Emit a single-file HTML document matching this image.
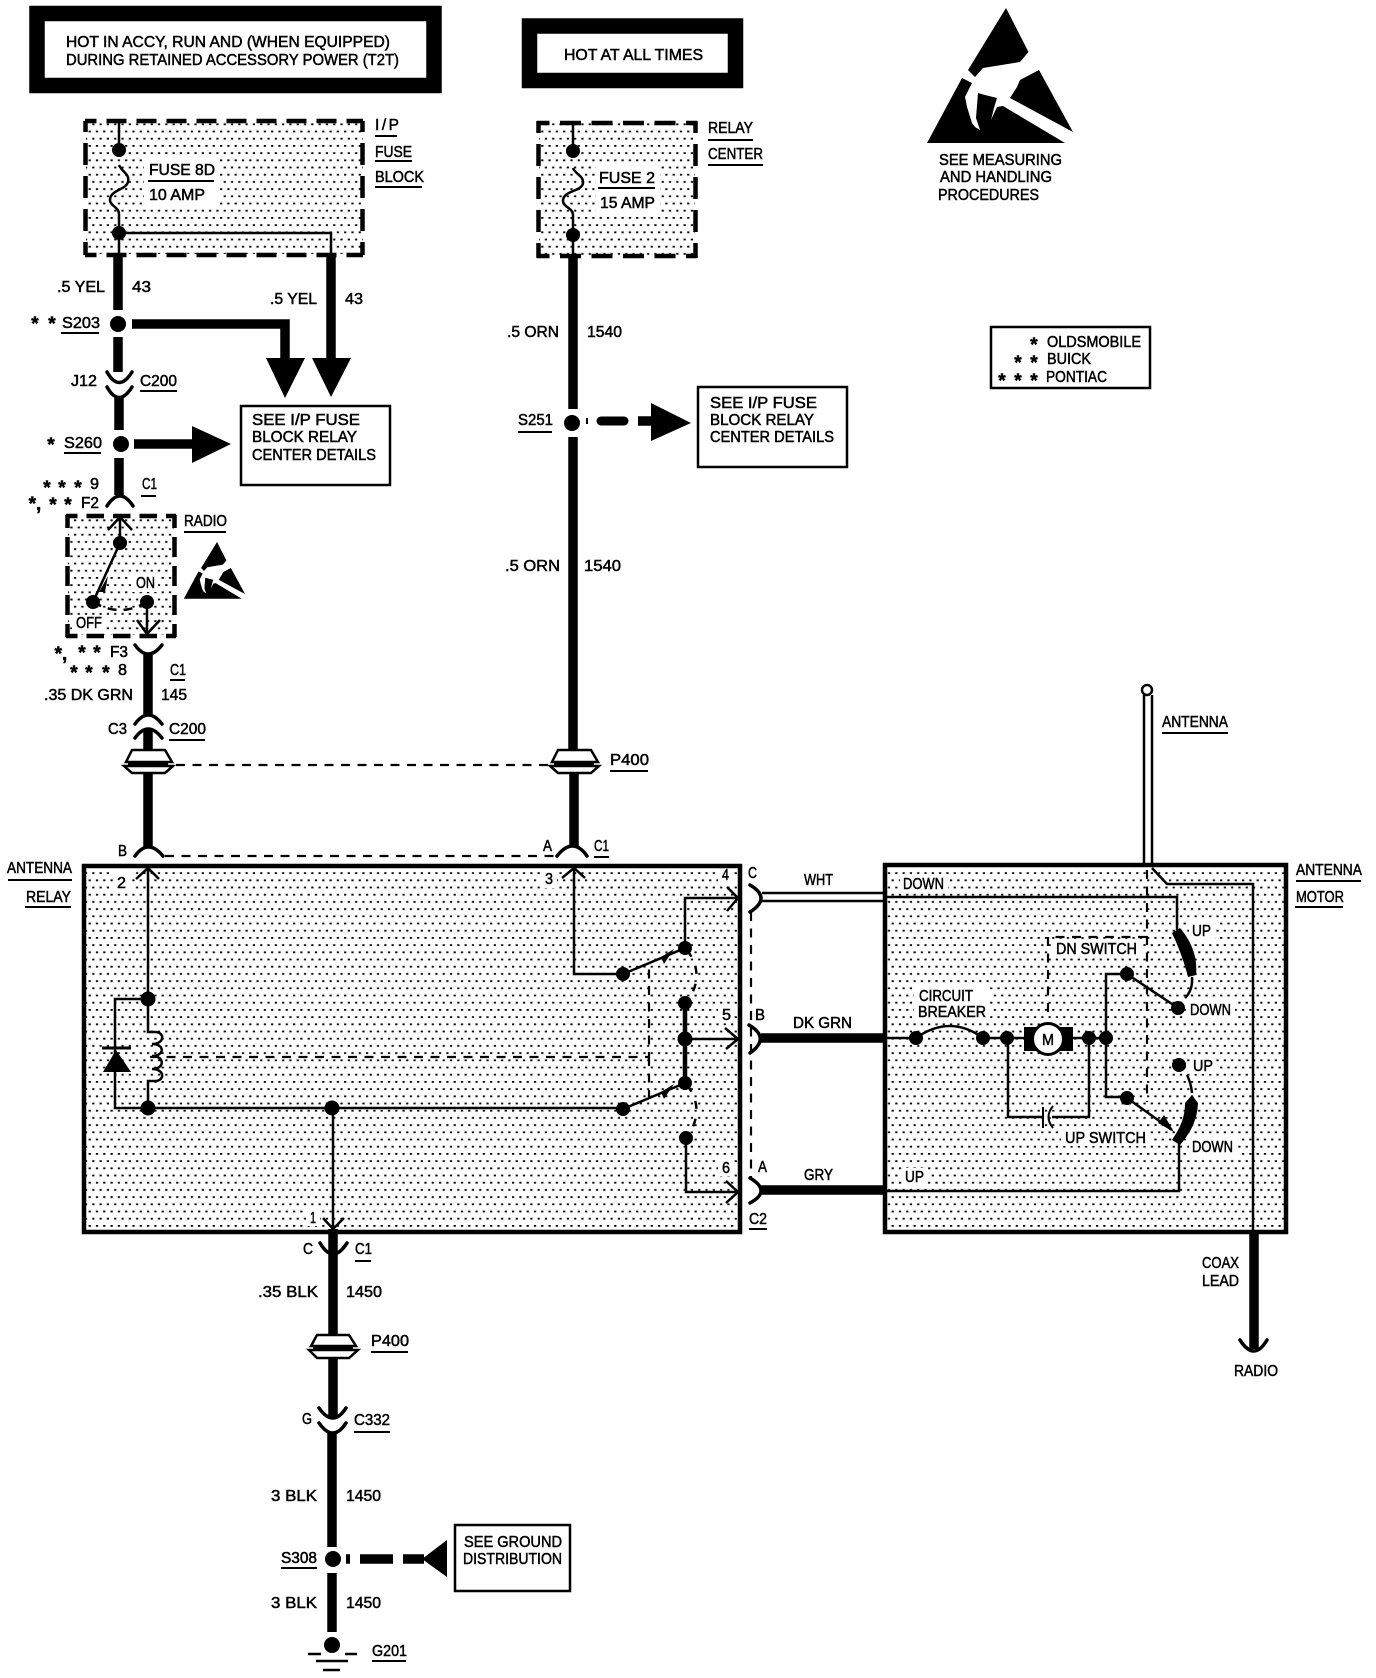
<!DOCTYPE html>
<html><head><meta charset="utf-8"><style>
html,body{margin:0;padding:0;background:#fff}
svg{display:block}
text{font-family:"Liberation Sans",sans-serif;font-size:15.5px;fill:#000;stroke:#000;stroke-width:.5}
text.a{font-size:19px;font-weight:bold;text-anchor:middle}
.w{fill:none;stroke:#000;stroke-width:2.5}
.t{fill:none;stroke:#000;stroke-width:9.5}
.c{fill:none;stroke:#000;stroke-width:3.5;stroke-linecap:round}
.d{fill:none;stroke:#000;stroke-width:4.5}
.h{fill:none;stroke:#000;stroke-width:2.2;stroke-dasharray:9 7.5}
.u{stroke:#000;stroke-width:2}
.n{fill:#fff;stroke:none}
</style></head><body>
<svg xmlns="http://www.w3.org/2000/svg" width="1376" height="1678" viewBox="0 0 1376 1678">
<defs><pattern id="p" width="7.3" height="14.4" patternUnits="userSpaceOnUse"><rect x="1" y="1" width="2.2" height="1.8"/><rect x="4.65" y="8.2" width="2.2" height="1.8"/></pattern></defs>
<rect width="1376" height="1678" fill="#fff"/>

<!-- stippled areas -->
<rect x="86" y="122" width="277" height="132" fill="url(#p)"/>
<rect x="539" y="123" width="156" height="133" fill="url(#p)"/>
<rect x="68" y="517" width="106" height="118" fill="url(#p)"/>
<rect x="86" y="868" width="652" height="362" fill="url(#p)"/>
<rect x="887" y="867" width="397" height="363" fill="url(#p)"/>

<!-- cleared label backgrounds -->
<g class="n">
<rect x="144" y="158" width="76" height="48"/><rect x="596" y="164" width="64" height="50"/>
<rect x="72" y="615" width="34" height="18"/><rect x="132" y="572" width="26" height="20"/>
<rect x="113" y="872" width="18" height="20"/><rect x="541" y="868" width="16" height="20"/>
<rect x="718" y="868" width="16" height="16"/><rect x="718" y="1005" width="16" height="18"/><rect x="718" y="1158" width="16" height="18"/>
<rect x="306" y="1208" width="14" height="18"/>
<rect x="900" y="874" width="48" height="18"/><rect x="902" y="1168" width="26" height="18"/>
<rect x="914" y="986" width="76" height="34"/><rect x="1052" y="940" width="90" height="18"/><rect x="1061" y="1128" width="89" height="18"/>
<rect x="1189" y="922" width="26" height="18"/><rect x="1187" y="1000" width="48" height="18"/><rect x="1190" y="1056" width="26" height="18"/><rect x="1189" y="1137" width="48" height="18"/>
</g>

<!-- banner boxes -->
<rect x="37" y="13.5" width="397" height="72" fill="#fff" stroke="#000" stroke-width="15.5"/>
<rect x="529.5" y="26" width="206" height="54.500" fill="#fff" stroke="#000" stroke-width="15.5"/>

<!-- I/P fuse block -->
<g class="d">
<path stroke-dasharray="20 10" stroke-dashoffset="8.500" d="M85 121H363M85 255H363"/>
<path stroke-dasharray="22 11" stroke-dashoffset="11" d="M85.500 121V255M362.500 121V255"/>
</g>
<path class="w" d="M119 120V150M119 165C122 172 130 174 128 182C126 190 110 190 110 200C110 206 119 207 119 214V256M119 233H331V256"/>
<circle cx="119" cy="150" r="7"/><circle cx="119" cy="233" r="7"/>
<path class="t" d="M118 256V310M331 256V360M132 324H285V360M118 337V372M119 397V430"/>
<polygon points="312,358 351,358 331,397"/><polygon points="266,358 305,358 285,398"/>
<circle cx="118" cy="324" r="8"/>
<path class="c" d="M107 372Q119 393 132 372M107 387Q119 408 132 387"/>
<circle cx="121" cy="444" r="8"/>
<path class="t" d="M134 444H195M119 458V495"/>
<polygon points="192,426 192,463 231,444"/>
<rect x="241" y="406" width="149" height="79" fill="#fff" stroke="#000" stroke-width="2.500"/>
<path class="c" d="M107 506Q120 486 133 506"/>

<!-- radio -->
<g class="d">
<path stroke-dasharray="17.500 9" stroke-dashoffset="6" d="M66 516H176M66 636H176"/>
<path stroke-dasharray="20 9" stroke-dashoffset="7" d="M67.500 515V637M174.500 515V637"/>
</g>
<path class="w" d="M120 517V543L93 602M108 530L120 517L132 530M147 602V637M137 620L147 634L160 620"/>
<path class="w" d="M93 602Q120 618 147 602" stroke-dasharray="9 7"/>
<circle cx="120" cy="543" r="7"/><circle cx="93" cy="602" r="7"/><circle cx="147" cy="602" r="7"/>
<polygon points="99,592 108,576 105,592"/>
<path class="t" d="M148 654V715M148 729V751M148 773V847"/>
<path class="c" d="M135 645Q148 663 162 645M135 724Q148 706 162 724M135 738Q148 720 162 738M135 856Q148 838 163 856"/>

<!-- esd symbols -->
<g>
<polygon points="1006,8 1028.500,52 1020,62 983,68 975,77 968,70"/>
<polygon points="1039,70 1073,132 1010,98 1017,87 1020,80"/>
<polygon points="962,78 972,83 965,97 967,107 972,123 975,127 980,130 983,123 990,122 997,107 1003,106 1065,143 927,143"/>
<polygon points="978,93 985,95 997,98 994,108 990,124 980,130 976,118"/>
</g>
<g transform="translate(217,542) scale(.42) translate(-1006,-8)"><polygon points="1006,8 1028.500,52 1020,62 983,68 975,77 968,70"/><polygon points="1039,70 1073,132 1010,98 1017,87 1020,80"/><polygon points="962,78 972,83 965,97 967,107 972,123 975,127 980,130 983,123 990,122 997,107 1003,106 1065,143 927,143"/><polygon points="978,93 985,95 997,98 994,108 990,124 980,130 976,118"/></g>

<!-- relay center column -->
<g class="d">
<path stroke-dasharray="21 10.500" stroke-dashoffset="8.500" d="M537 123H697M537 256H697"/>
<path stroke-dasharray="22 11" stroke-dashoffset="10" d="M538.500 121V258M695.500 121V258"/>
</g>
<path class="w" d="M573 121V151M573 168C575 174 584 176 583 183C582 192 563 190 563 201C563 207 573 208 573 215V258"/>
<circle cx="573" cy="151" r="7"/><circle cx="573" cy="235" r="7"/>
<path class="t" d="M573 258V409M573 437V751M574 773V847"/>
<circle cx="572" cy="423" r="8"/>
<path d="M587 418V424" class="u"/>
<path stroke="#000" stroke-width="9" stroke-linecap="round" d="M601 421H624"/><path class="t" d="M638 421H654"/>
<polygon points="651,403 651,441 691,423"/>
<rect x="698" y="387" width="149" height="80" fill="#fff" stroke="#000" stroke-width="2.500"/>
<path class="c" d="M557 856Q573 836 587 856"/>

<!-- grommets -->
<g fill="#fff" stroke="#000" stroke-width="2.500">
<polygon points="132,750 165,750 172,762 126,762"/><polygon points="124,766 173,766 165,773 132,773"/>
<polygon points="558,750 591,750 598,762 552,762"/><polygon points="550,766 599,766 591,773 558,773"/>
<polygon points="317,1335 349,1335 356,1346 311,1346"/><polygon points="309,1350 358,1350 349,1358 317,1358"/>
</g>
<rect x="128" y="762" width="40" height="3"/><rect x="554" y="762" width="40" height="3"/><rect x="313" y="1346" width="40" height="3"/>
<path class="h" d="M176 765H550"/>
<path class="h" d="M165 856H556"/>

<!-- relay box -->
<rect x="84" y="866" width="656" height="366" fill="none" stroke="#000" stroke-width="4.500"/>
<path class="w" d="M148 868V999H115V1108H623M148 999V1032H155C165 1032 165 1044 152 1044C165 1044 165 1056 152 1056C165 1056 165 1069 152 1069C165 1069 165 1081 155 1081H148V1108M333 1108V1232M136 879L148 868L159 879M323 1218L333 1229L344 1218"/>
<path stroke="#000" stroke-width="3" d="M102 1048H131"/>
<polygon points="116,1050 103,1072 131,1072"/>
<circle cx="148" cy="999" r="7.500"/><circle cx="148" cy="1108" r="7.500"/><circle cx="332" cy="1108" r="7.500"/>
<path class="h" d="M150 1057H649V965M649 1057V1098" stroke-dasharray="10 7.500"/>
<path class="w" stroke-width="2.800" d="M574 868V974H623L685 948V898H738M562 878L574 868L585 878M727 887L738 898L727 911M685 1039H738M725 1028L738 1039L726 1049M623 1109L685 1083M686 1138V1192H738M726 1181L738 1192L726 1203"/>
<path stroke="#000" stroke-width="4.500" d="M685 1003V1083"/>
<polygon points="661,957 674,949 664,964"/><polygon points="661,1092 674,1084 664,1099"/>
<path class="w" stroke-dasharray="8 10" d="M687 950Q706 975 687 1002M687 1085Q706 1110 687 1137"/>
<circle cx="623" cy="974" r="7"/><circle cx="685" cy="948" r="7"/><circle cx="685" cy="1003" r="7"/><circle cx="685" cy="1039" r="7.500"/><circle cx="685" cy="1083" r="7"/><circle cx="623" cy="1109" r="7"/><circle cx="686" cy="1138" r="7"/>

<!-- harness connectors -->
<path class="h" d="M751 912V1178" stroke-width="2.500" stroke-dasharray="11 7"/>
<path class="c" d="M750 885Q772 898 750 912M749 1025Q771 1038 750 1053M750 1178Q772 1191 750 1203"/>
<path class="w" d="M762 893H885M762 901H885"/>
<path class="t" d="M761 1038H885M761 1190H885"/>

<!-- motor box -->
<rect x="885" y="865" width="401" height="367" fill="none" stroke="#000" stroke-width="4.500"/>
<path class="w" d="M1144 695V866M1152 695V866"/>
<circle cx="1147" cy="690" r="5" fill="#fff" stroke="#000" stroke-width="2.500"/>
<path class="w" d="M1152 868L1167 884H1253V1232"/>
<path class="t" stroke-width="11" d="M1254 1232V1349"/>
<path class="c" d="M1240 1340Q1254 1362 1267 1340"/>
<path class="h" stroke-width="2.500" stroke-dasharray="12 7" d="M1147 870V1102M1147 937H1048V1017"/>
<path class="w" d="M885 897H1177V930M1179 1142V1191H885M885 1038H916M1192 977Q1193 990 1185 998M1187 1075Q1191 1083 1192 1093"/>
<path d="M1172 933C1180 950 1185 965 1188 977L1196 975C1198 955 1190 940 1180 928ZM1192 1095L1198 1103C1197 1122 1190 1133 1180 1145L1172 1140C1180 1128 1185 1118 1185 1103Z"/>
<path class="w" d="M916 1038Q950 1014 983 1038M983 1038H1110M1008 1038V1117H1043M1089 1038V1117H1052M1127 974H1106V1097H1127M1127 974L1178 1008M1127 1098L1172 1130"/>
<path fill="none" stroke="#000" stroke-width="2" d="M1043 1107V1128M1053 1106Q1044 1117 1053 1128"/>
<polygon points="1160,995 1166,1001 1150,991"/><polygon points="1174,1132 1158,1123 1164,1115"/>
<circle cx="916" cy="1038" r="7"/><circle cx="983" cy="1038" r="7"/><circle cx="1007" cy="1038" r="7"/>
<rect x="1024" y="1027" width="49" height="24"/>
<circle cx="1048" cy="1039" r="15.500" fill="#fff" stroke="#000" stroke-width="3"/>
<circle cx="1089" cy="1038" r="7"/><circle cx="1106" cy="1038" r="7"/>
<circle cx="1127" cy="974" r="7"/><circle cx="1178" cy="1008" r="7"/><circle cx="1127" cy="1098" r="7"/><circle cx="1179" cy="1065" r="7"/>

<!-- legend -->
<rect x="991" y="327" width="159" height="61" fill="none" stroke="#000" stroke-width="2.500"/>

<!-- lower column -->
<path class="c" d="M320 1243Q333 1265 347 1243M319 1408Q333 1428 346 1408M319 1423Q333 1443 346 1423"/>
<path class="t" d="M333 1229V1335M333 1358V1417M332 1433V1547M332 1573V1632M360 1559H393M403 1559H424M346 1559H350"/>
<circle cx="333" cy="1559" r="8"/><circle cx="332" cy="1645" r="8"/>
<polygon points="422,1559 447,1540 447,1577"/>
<rect x="455" y="1525" width="115" height="66" fill="#fff" stroke="#000" stroke-width="2.500"/>
<path stroke="#000" stroke-width="2.500" d="M308 1654H321M345 1654H357M316 1661H348M323 1670H340"/>

<!-- underlines -->
<g class="u">
<path d="M148 181H214M375 136H397M375 161H412M375 187H422M61 333H99M140 391H177M64 453H101M141 496H156M184 532H226M170 680H185M169 740H205M8 880H72M25 907H71"/>
<path d="M598 188H655M708 140H753M708 165H763M518 432H552M610 771H648M594 857H609M749 1229H767M1296 881H1361M1295 907H1343M1162 733H1228M355 1261H371M371 1352H408M354 1432H390M281 1568H317M372 1661H406"/>
</g>

<!-- text -->
<g>
<text x="66" y="47" textLength="324" lengthAdjust="spacingAndGlyphs">HOT IN ACCY, RUN AND (WHEN EQUIPPED)</text>
<text x="66" y="65" textLength="333" lengthAdjust="spacingAndGlyphs">DURING RETAINED ACCESSORY POWER (T2T)</text>
<text x="564" y="60" textLength="139" lengthAdjust="spacingAndGlyphs">HOT AT ALL TIMES</text>
<text x="149" y="175" textLength="66" lengthAdjust="spacingAndGlyphs">FUSE 8D</text>
<text x="149" y="200" textLength="56" lengthAdjust="spacingAndGlyphs">10 AMP</text>
<text x="375" y="130" textLength="24">I/P</text>
<text x="375" y="157" textLength="37" lengthAdjust="spacingAndGlyphs">FUSE</text>
<text x="375" y="182" textLength="49" lengthAdjust="spacingAndGlyphs">BLOCK</text>
<text x="57" y="292" textLength="48" lengthAdjust="spacingAndGlyphs">.5 YEL</text>
<text x="132" y="292" textLength="19" lengthAdjust="spacingAndGlyphs">43</text>
<text x="270" y="304" textLength="47" lengthAdjust="spacingAndGlyphs">.5 YEL</text>
<text x="345" y="304" textLength="18" lengthAdjust="spacingAndGlyphs">43</text>
<text class="a" x="35" y="330">*</text><text class="a" x="52" y="330">*</text>
<text x="62" y="328" textLength="38" lengthAdjust="spacingAndGlyphs">S203</text>
<text x="71" y="386" textLength="26" lengthAdjust="spacingAndGlyphs">J12</text>
<text x="140" y="386" textLength="37" lengthAdjust="spacingAndGlyphs">C200</text>
<text class="a" x="51" y="451">*</text>
<text x="64" y="448" textLength="38" lengthAdjust="spacingAndGlyphs">S260</text>
<text x="252" y="425" textLength="108" lengthAdjust="spacingAndGlyphs">SEE I/P FUSE</text>
<text x="252" y="442" textLength="105" lengthAdjust="spacingAndGlyphs">BLOCK RELAY</text>
<text x="252" y="460" textLength="124" lengthAdjust="spacingAndGlyphs">CENTER DETAILS</text>
<text class="a" x="47" y="494">*</text><text class="a" x="62" y="494">*</text><text class="a" x="78" y="494">*</text>
<text x="90" y="489" textLength="9" lengthAdjust="spacingAndGlyphs">9</text>
<text class="a" x="35" y="510">*,</text><text class="a" x="53" y="511">*</text><text class="a" x="68" y="511">*</text>
<text x="81" y="508" textLength="18" lengthAdjust="spacingAndGlyphs">F2</text>
<text x="142" y="489" textLength="15" lengthAdjust="spacingAndGlyphs">C1</text>
<text x="184" y="526" textLength="43" lengthAdjust="spacingAndGlyphs">RADIO</text>
<text x="136" y="588" textLength="19" lengthAdjust="spacingAndGlyphs">ON</text>
<text x="76" y="628" textLength="26" lengthAdjust="spacingAndGlyphs">OFF</text>
<text class="a" x="61" y="660">*,</text><text class="a" x="82" y="659">*</text><text class="a" x="97" y="659">*</text>
<text x="110" y="657" textLength="18" lengthAdjust="spacingAndGlyphs">F3</text>
<text class="a" x="74" y="679">*</text><text class="a" x="89" y="679">*</text><text class="a" x="106" y="679">*</text>
<text x="118" y="675" textLength="9" lengthAdjust="spacingAndGlyphs">8</text>
<text x="170" y="675" textLength="16" lengthAdjust="spacingAndGlyphs">C1</text>
<text x="44" y="700" textLength="89" lengthAdjust="spacingAndGlyphs">.35 DK GRN</text>
<text x="161" y="700" textLength="26" lengthAdjust="spacingAndGlyphs">145</text>
<text x="108" y="734" textLength="19" lengthAdjust="spacingAndGlyphs">C3</text>
<text x="169" y="734" textLength="37" lengthAdjust="spacingAndGlyphs">C200</text>
<text x="118" y="856" textLength="9" lengthAdjust="spacingAndGlyphs">B</text>
<text x="543" y="851" textLength="9" lengthAdjust="spacingAndGlyphs">A</text>
<text x="594" y="851" textLength="15" lengthAdjust="spacingAndGlyphs">C1</text>
<text x="7" y="873" textLength="65" lengthAdjust="spacingAndGlyphs">ANTENNA</text>
<text x="26" y="902" textLength="45" lengthAdjust="spacingAndGlyphs">RELAY</text>
<text x="117" y="888" textLength="9" lengthAdjust="spacingAndGlyphs">2</text>
<text x="545" y="884" textLength="8" lengthAdjust="spacingAndGlyphs">3</text>
<text x="722" y="880" textLength="7" lengthAdjust="spacingAndGlyphs">4</text>
<text x="722" y="1020" textLength="9" lengthAdjust="spacingAndGlyphs">5</text>
<text x="722" y="1173" textLength="8" lengthAdjust="spacingAndGlyphs">6</text>
<text x="310" y="1223" textLength="6" lengthAdjust="spacingAndGlyphs">1</text>
<text x="748" y="878" textLength="9" lengthAdjust="spacingAndGlyphs">C</text>
<text x="755" y="1020" textLength="10" lengthAdjust="spacingAndGlyphs">B</text>
<text x="758" y="1172" textLength="9" lengthAdjust="spacingAndGlyphs">A</text>
<text x="749" y="1224" textLength="18" lengthAdjust="spacingAndGlyphs">C2</text>
<text x="804" y="885" textLength="29" lengthAdjust="spacingAndGlyphs">WHT</text>
<text x="793" y="1028" textLength="59" lengthAdjust="spacingAndGlyphs">DK GRN</text>
<text x="804" y="1180" textLength="29" lengthAdjust="spacingAndGlyphs">GRY</text>
<text x="599" y="183" textLength="56" lengthAdjust="spacingAndGlyphs">FUSE 2</text>
<text x="600" y="208" textLength="55" lengthAdjust="spacingAndGlyphs">15 AMP</text>
<text x="708" y="133" textLength="45" lengthAdjust="spacingAndGlyphs">RELAY</text>
<text x="708" y="159" textLength="55" lengthAdjust="spacingAndGlyphs">CENTER</text>
<text x="507" y="337" textLength="52" lengthAdjust="spacingAndGlyphs">.5 ORN</text>
<text x="587" y="337" textLength="35" lengthAdjust="spacingAndGlyphs">1540</text>
<text x="518" y="425" textLength="35" lengthAdjust="spacingAndGlyphs">S251</text>
<text x="710" y="408" textLength="107" lengthAdjust="spacingAndGlyphs">SEE I/P FUSE</text>
<text x="710" y="425" textLength="104" lengthAdjust="spacingAndGlyphs">BLOCK RELAY</text>
<text x="710" y="442" textLength="124" lengthAdjust="spacingAndGlyphs">CENTER DETAILS</text>
<text x="505" y="571" textLength="55" lengthAdjust="spacingAndGlyphs">.5 ORN</text>
<text x="584" y="571" textLength="37" lengthAdjust="spacingAndGlyphs">1540</text>
<text x="610" y="765" textLength="39" lengthAdjust="spacingAndGlyphs">P400</text>
<text x="939" y="165" textLength="123" lengthAdjust="spacingAndGlyphs">SEE MEASURING</text>
<text x="940" y="182" textLength="112" lengthAdjust="spacingAndGlyphs">AND HANDLING</text>
<text x="938" y="200" textLength="101" lengthAdjust="spacingAndGlyphs">PROCEDURES</text>
<text x="1047" y="347" textLength="94" lengthAdjust="spacingAndGlyphs">OLDSMOBILE</text>
<text x="1047" y="364" textLength="44" lengthAdjust="spacingAndGlyphs">BUICK</text>
<text x="1046" y="382" textLength="61" lengthAdjust="spacingAndGlyphs">PONTIAC</text>
<text class="a" x="1034" y="351">*</text>
<text class="a" x="1018" y="369">*</text><text class="a" x="1034" y="369">*</text>
<text class="a" x="1002" y="387">*</text><text class="a" x="1018" y="387">*</text><text class="a" x="1034" y="387">*</text>
<text x="1162" y="727" textLength="66" lengthAdjust="spacingAndGlyphs">ANTENNA</text>
<text x="1296" y="875" textLength="66" lengthAdjust="spacingAndGlyphs">ANTENNA</text>
<text x="1296" y="902" textLength="48" lengthAdjust="spacingAndGlyphs">MOTOR</text>
<text x="903" y="889" textLength="41" lengthAdjust="spacingAndGlyphs">DOWN</text>
<text x="905" y="1182" textLength="19" lengthAdjust="spacingAndGlyphs">UP</text>
<text x="919" y="1001" textLength="54" lengthAdjust="spacingAndGlyphs">CIRCUIT</text>
<text x="918" y="1017" textLength="68" lengthAdjust="spacingAndGlyphs">BREAKER</text>
<text x="1056" y="954" textLength="81" lengthAdjust="spacingAndGlyphs">DN SWITCH</text>
<text x="1065" y="1143" textLength="81" lengthAdjust="spacingAndGlyphs">UP SWITCH</text>
<text x="1192" y="936" textLength="19" lengthAdjust="spacingAndGlyphs">UP</text>
<text x="1190" y="1015" textLength="41" lengthAdjust="spacingAndGlyphs">DOWN</text>
<text x="1193" y="1071" textLength="20" lengthAdjust="spacingAndGlyphs">UP</text>
<text x="1192" y="1152" textLength="41" lengthAdjust="spacingAndGlyphs">DOWN</text>
<text x="1042" y="1045" textLength="12" lengthAdjust="spacingAndGlyphs">M</text>
<text x="1202" y="1268" textLength="37" lengthAdjust="spacingAndGlyphs">COAX</text>
<text x="1202" y="1286" textLength="37" lengthAdjust="spacingAndGlyphs">LEAD</text>
<text x="1234" y="1376" textLength="44" lengthAdjust="spacingAndGlyphs">RADIO</text>
<text x="303" y="1254" textLength="10" lengthAdjust="spacingAndGlyphs">C</text>
<text x="355" y="1254" textLength="17" lengthAdjust="spacingAndGlyphs">C1</text>
<text x="258" y="1297" textLength="60" lengthAdjust="spacingAndGlyphs">.35 BLK</text>
<text x="346" y="1297" textLength="36" lengthAdjust="spacingAndGlyphs">1450</text>
<text x="371" y="1346" textLength="38" lengthAdjust="spacingAndGlyphs">P400</text>
<text x="302" y="1424" textLength="10" lengthAdjust="spacingAndGlyphs">G</text>
<text x="354" y="1425" textLength="36" lengthAdjust="spacingAndGlyphs">C332</text>
<text x="271" y="1501" textLength="46" lengthAdjust="spacingAndGlyphs">3 BLK</text>
<text x="346" y="1501" textLength="35" lengthAdjust="spacingAndGlyphs">1450</text>
<text x="281" y="1563" textLength="36" lengthAdjust="spacingAndGlyphs">S308</text>
<text x="464" y="1547" textLength="98" lengthAdjust="spacingAndGlyphs">SEE GROUND</text>
<text x="463" y="1564" textLength="99" lengthAdjust="spacingAndGlyphs">DISTRIBUTION</text>
<text x="271" y="1608" textLength="46" lengthAdjust="spacingAndGlyphs">3 BLK</text>
<text x="346" y="1608" textLength="35" lengthAdjust="spacingAndGlyphs">1450</text>
<text x="372" y="1656" textLength="35" lengthAdjust="spacingAndGlyphs">G201</text>
</g>
</svg>
</body></html>
